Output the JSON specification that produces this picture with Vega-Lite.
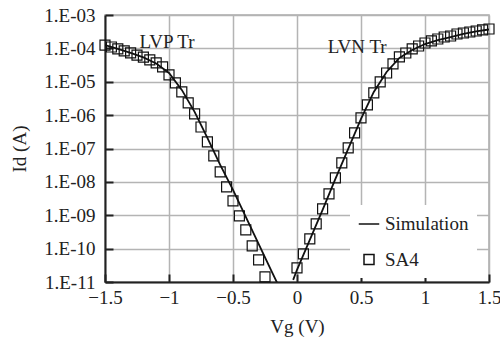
{
  "$schema": "https://vega.github.io/schema/vega-lite/v6.json",
  "autosize": "none",
  "width": 384,
  "height": 267,
  "padding": {"left": 105, "top": 15, "right": 11, "bottom": 62},
  "background": "white",
  "config": {
    "font": "Times New Roman, Liberation Serif, serif",
    "view": {"stroke": "#aaaaaa", "strokeWidth": 1.5},
    "axis": {
      "labelFont": "Times New Roman, Liberation Serif, serif",
      "titleFont": "Times New Roman, Liberation Serif, serif",
      "labelFontSize": 19,
      "titleFontSize": 19,
      "titleFontWeight": "normal",
      "labelColor": "#222",
      "titleColor": "#222",
      "gridColor": "#b4b4b4",
      "gridWidth": 1.5,
      "domainColor": "#222",
      "domainWidth": 2,
      "tickColor": "#222",
      "tickWidth": 2,
      "tickSize": -8,
      "labelFlush": false
    }
  },
  "datasets": {
    "curves": [
      {"dev": "LVP", "series": "Simulation", "Vg": -1.5, "Id": 1.26e-4},
      {"dev": "LVP", "series": "Simulation", "Vg": -1.4, "Id": 9.6e-5},
      {"dev": "LVP", "series": "Simulation", "Vg": -1.3, "Id": 7.3e-5},
      {"dev": "LVP", "series": "Simulation", "Vg": -1.2, "Id": 5.35e-5},
      {"dev": "LVP", "series": "Simulation", "Vg": -1.1, "Id": 3.53e-5},
      {"dev": "LVP", "series": "Simulation", "Vg": -1.0, "Id": 1.83e-5},
      {"dev": "LVP", "series": "Simulation", "Vg": -0.9, "Id": 5.7e-6},
      {"dev": "LVP", "series": "Simulation", "Vg": -0.8, "Id": 1.25e-6},
      {"dev": "LVP", "series": "Simulation", "Vg": -0.7, "Id": 2.07e-7},
      {"dev": "LVP", "series": "Simulation", "Vg": -0.6, "Id": 3.23e-8},
      {"dev": "LVP", "series": "Simulation", "Vg": -0.5, "Id": 5.75e-9},
      {"dev": "LVP", "series": "Simulation", "Vg": -0.4, "Id": 8.95e-10},
      {"dev": "LVP", "series": "Simulation", "Vg": -0.3, "Id": 1.39e-10},
      {"dev": "LVP", "series": "Simulation", "Vg": -0.2, "Id": 2.16e-11},
      {"dev": "LVP", "series": "Simulation", "Vg": -0.15, "Id": 8.6e-12},
      {"dev": "LVN", "series": "Simulation", "Vg": -0.03, "Id": 1.16e-11},
      {"dev": "LVN", "series": "Simulation", "Vg": 0.0, "Id": 2.32e-11},
      {"dev": "LVN", "series": "Simulation", "Vg": 0.1, "Id": 1.83e-10},
      {"dev": "LVN", "series": "Simulation", "Vg": 0.2, "Id": 1.45e-9},
      {"dev": "LVN", "series": "Simulation", "Vg": 0.3, "Id": 1.23e-8},
      {"dev": "LVN", "series": "Simulation", "Vg": 0.4, "Id": 9.7e-8},
      {"dev": "LVN", "series": "Simulation", "Vg": 0.5, "Id": 7.7e-7},
      {"dev": "LVN", "series": "Simulation", "Vg": 0.6, "Id": 4.95e-6},
      {"dev": "LVN", "series": "Simulation", "Vg": 0.7, "Id": 1.96e-5},
      {"dev": "LVN", "series": "Simulation", "Vg": 0.8, "Id": 5.16e-5},
      {"dev": "LVN", "series": "Simulation", "Vg": 0.9, "Id": 8.95e-5},
      {"dev": "LVN", "series": "Simulation", "Vg": 1.0, "Id": 1.35e-4},
      {"dev": "LVN", "series": "Simulation", "Vg": 1.1, "Id": 1.78e-4},
      {"dev": "LVN", "series": "Simulation", "Vg": 1.2, "Id": 2.19e-4},
      {"dev": "LVN", "series": "Simulation", "Vg": 1.3, "Id": 2.7e-4},
      {"dev": "LVN", "series": "Simulation", "Vg": 1.4, "Id": 3.21e-4},
      {"dev": "LVN", "series": "Simulation", "Vg": 1.5, "Id": 3.68e-4}
    ],
    "measured": [
      {"dev": "LVP", "series": "SA4", "Vg": -1.5, "Id": 1.26e-4},
      {"dev": "LVP", "series": "SA4", "Vg": -1.45, "Id": 1.1e-4},
      {"dev": "LVP", "series": "SA4", "Vg": -1.4, "Id": 9.6e-5},
      {"dev": "LVP", "series": "SA4", "Vg": -1.35, "Id": 8.4e-5},
      {"dev": "LVP", "series": "SA4", "Vg": -1.3, "Id": 7.3e-5},
      {"dev": "LVP", "series": "SA4", "Vg": -1.25, "Id": 6.3e-5},
      {"dev": "LVP", "series": "SA4", "Vg": -1.2, "Id": 5.5e-5},
      {"dev": "LVP", "series": "SA4", "Vg": -1.15, "Id": 4.5e-5},
      {"dev": "LVP", "series": "SA4", "Vg": -1.1, "Id": 3.66e-5},
      {"dev": "LVP", "series": "SA4", "Vg": -1.05, "Id": 2.8e-5},
      {"dev": "LVP", "series": "SA4", "Vg": -1.0, "Id": 1.6e-5},
      {"dev": "LVP", "series": "SA4", "Vg": -0.95, "Id": 9.2e-6},
      {"dev": "LVP", "series": "SA4", "Vg": -0.9, "Id": 4.95e-6},
      {"dev": "LVP", "series": "SA4", "Vg": -0.85, "Id": 2.32e-6},
      {"dev": "LVP", "series": "SA4", "Vg": -0.8, "Id": 1.09e-6},
      {"dev": "LVP", "series": "SA4", "Vg": -0.75, "Id": 4.4e-7},
      {"dev": "LVP", "series": "SA4", "Vg": -0.7, "Id": 1.58e-7},
      {"dev": "LVP", "series": "SA4", "Vg": -0.65, "Id": 6.0e-8},
      {"dev": "LVP", "series": "SA4", "Vg": -0.6, "Id": 2.0e-8},
      {"dev": "LVP", "series": "SA4", "Vg": -0.55, "Id": 7.1e-9},
      {"dev": "LVP", "series": "SA4", "Vg": -0.5, "Id": 2.7e-9},
      {"dev": "LVP", "series": "SA4", "Vg": -0.45, "Id": 9.6e-10},
      {"dev": "LVP", "series": "SA4", "Vg": -0.4, "Id": 3.66e-10},
      {"dev": "LVP", "series": "SA4", "Vg": -0.35, "Id": 1.21e-10},
      {"dev": "LVP", "series": "SA4", "Vg": -0.3, "Id": 4.6e-11},
      {"dev": "LVP", "series": "SA4", "Vg": -0.25, "Id": 1.43e-11},
      {"dev": "LVN", "series": "SA4", "Vg": 0.0, "Id": 2.66e-11},
      {"dev": "LVN", "series": "SA4", "Vg": 0.05, "Id": 6.98e-11},
      {"dev": "LVN", "series": "SA4", "Vg": 0.1, "Id": 1.96e-10},
      {"dev": "LVN", "series": "SA4", "Vg": 0.15, "Id": 5.53e-10},
      {"dev": "LVN", "series": "SA4", "Vg": 0.2, "Id": 1.56e-9},
      {"dev": "LVN", "series": "SA4", "Vg": 0.25, "Id": 4.38e-9},
      {"dev": "LVN", "series": "SA4", "Vg": 0.3, "Id": 1.32e-8},
      {"dev": "LVN", "series": "SA4", "Vg": 0.35, "Id": 3.71e-8},
      {"dev": "LVN", "series": "SA4", "Vg": 0.4, "Id": 1.04e-7},
      {"dev": "LVN", "series": "SA4", "Vg": 0.45, "Id": 2.93e-7},
      {"dev": "LVN", "series": "SA4", "Vg": 0.5, "Id": 8.24e-7},
      {"dev": "LVN", "series": "SA4", "Vg": 0.55, "Id": 2.02e-6},
      {"dev": "LVN", "series": "SA4", "Vg": 0.6, "Id": 4.62e-6},
      {"dev": "LVN", "series": "SA4", "Vg": 0.65, "Id": 9.87e-6},
      {"dev": "LVN", "series": "SA4", "Vg": 0.7, "Id": 1.83e-5},
      {"dev": "LVN", "series": "SA4", "Vg": 0.75, "Id": 3.41e-5},
      {"dev": "LVN", "series": "SA4", "Vg": 0.8, "Id": 5.53e-5},
      {"dev": "LVN", "series": "SA4", "Vg": 0.85, "Id": 7.28e-5},
      {"dev": "LVN", "series": "SA4", "Vg": 0.9, "Id": 9.6e-5},
      {"dev": "LVN", "series": "SA4", "Vg": 0.95, "Id": 1.18e-4},
      {"dev": "LVN", "series": "SA4", "Vg": 1.0, "Id": 1.45e-4},
      {"dev": "LVN", "series": "SA4", "Vg": 1.05, "Id": 1.67e-4},
      {"dev": "LVN", "series": "SA4", "Vg": 1.1, "Id": 1.91e-4},
      {"dev": "LVN", "series": "SA4", "Vg": 1.15, "Id": 2.19e-4},
      {"dev": "LVN", "series": "SA4", "Vg": 1.2, "Id": 2.35e-4},
      {"dev": "LVN", "series": "SA4", "Vg": 1.25, "Id": 2.7e-4},
      {"dev": "LVN", "series": "SA4", "Vg": 1.3, "Id": 2.89e-4},
      {"dev": "LVN", "series": "SA4", "Vg": 1.35, "Id": 3.1e-4},
      {"dev": "LVN", "series": "SA4", "Vg": 1.4, "Id": 3.32e-4},
      {"dev": "LVN", "series": "SA4", "Vg": 1.45, "Id": 3.56e-4},
      {"dev": "LVN", "series": "SA4", "Vg": 1.5, "Id": 3.81e-4}
    ],
    "notes": [
      {"label": "LVP Tr", "Vg": -1.016, "Id": 1.55e-4},
      {"label": "LVN Tr", "Vg": 0.47, "Id": 1.1e-4}
    ]
  },
  "encoding": {
    "x": {
      "field": "Vg", "type": "quantitative",
      "scale": {"domain": [-1.5, 1.5], "nice": false, "zero": false},
      "axis": {"title": "Vg (V)", "values": [-1.5, -1, -0.5, 0, 0.5, 1, 1.5], "format": "~g", "labelPadding": 14, "titlePadding": 10}
    },
    "y": {
      "field": "Id", "type": "quantitative",
      "scale": {"type": "log", "domain": [1e-11, 1e-3], "nice": false},
      "axis": {
        "title": "Id (A)",
        "values": [1e-11, 1e-10, 1e-9, 1e-8, 1e-7, 1e-6, 1e-5, 1e-4, 1e-3],
        "labelExpr": "'1.E-' + (round(-log(datum.value)/LN10) < 10 ? '0' : '') + round(-log(datum.value)/LN10)",
        "labelPadding": 18,
        "titlePadding": 14
      }
    }
  },
  "layer": [
    {
      "data": {"name": "curves"},
      "mark": {"type": "line", "color": "#111", "strokeWidth": 1.8, "clip": true},
      "encoding": {"detail": {"field": "dev"}}
    },
    {
      "data": {"name": "measured"},
      "mark": {"type": "point", "filled": false, "stroke": "#111", "strokeWidth": 1.2, "opacity": 1},
      "encoding": {
        "shape": {
          "field": "series", "type": "nominal",
          "scale": {"domain": ["Simulation", "SA4"], "range": ["stroke", "square"]},
          "legend": {
            "title": null,
            "orient": "none",
            "legendX": 245,
            "legendY": 190,
            "fillColor": "white",
            "padding": 8,
            "rowPadding": 16,
            "labelFont": "Times New Roman, Liberation Serif, serif",
            "labelFontSize": 19,
            "labelColor": "#222",
            "symbolStrokeColor": "#111",
            "symbolStrokeWidth": 1.5,
            "labelOffset": 5
          }
        },
        "size": {
          "field": "series", "type": "nominal",
          "scale": {"domain": ["Simulation", "SA4"], "range": [420, 100]}
        }
      }
    },
    {
      "data": {"name": "notes"},
      "mark": {"type": "text", "font": "Times New Roman, Liberation Serif, serif", "fontSize": 19, "color": "#222"},
      "encoding": {"text": {"field": "label"}}
    }
  ]
}
